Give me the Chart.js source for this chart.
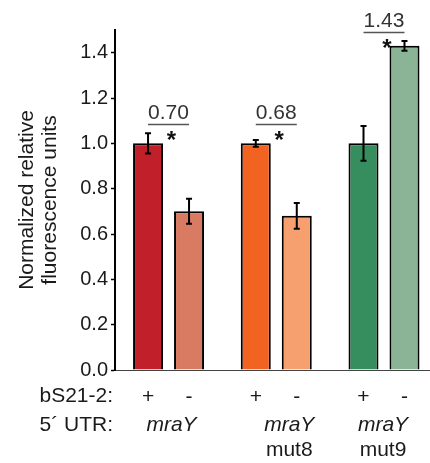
<!DOCTYPE html>
<html>
<head>
<meta charset="utf-8">
<script src="https://cdn.jsdelivr.net/npm/chart.js@4"></script>
<style>
  body { margin: 0; background: #fff; }
  #wrap { width: 430px; height: 463px; position: relative; }
</style>
</head>
<body>
<div id="wrap"><canvas id="chart"></canvas></div>
<script>
// --- data ---
const groupPos = [1, 2, 3];
const groupLine1 = ['mraY', 'mraY', 'mraY'];
const groupLine2 = ['', 'mut8', 'mut9'];
const plusValues = [1.00, 1.00, 1.00];
const plusErrors = [0.045, 0.015, 0.077];
const minusValues = [0.70, 0.68, 1.43];
const minusErrors = [0.055, 0.057, 0.022];
const ratioLabels = ['0.70', '0.68', '1.43'];
const bracketLevel = [1.085, 1.085, 1.49];
const yTicks = [0, 0.2, 0.4, 0.6, 0.8, 1.0, 1.2, 1.4];

const plusColors = ['#C1202A', '#F26322', '#368E5E'];
const minusColors = ['#D97B63', '#F7A06F', '#8BB497'];

const FONT = '"Liberation Sans", Arial, Helvetica, sans-serif';

// error bars drawn on top of each bar
const errorBars = {
    id: 'errorBars',
    afterDatasetsDraw(chart) {
        const { ctx } = chart;
        const y = chart.scales.y;
        ctx.save();
        ctx.strokeStyle = '#000';
        ctx.lineWidth = 2;
        chart.data.datasets.forEach((ds, i) => {
            chart.getDatasetMeta(i).data.forEach((bar, j) => {
                const v = ds.data[j].y, e = ds.errors[j];
                const top = y.getPixelForValue(v + e);
                const bot = y.getPixelForValue(v - e);
                ctx.beginPath();
                ctx.moveTo(bar.x, top); ctx.lineTo(bar.x, bot);
                ctx.moveTo(bar.x - 3, top); ctx.lineTo(bar.x + 3, top);
                ctx.moveTo(bar.x - 3, bot); ctx.lineTo(bar.x + 3, bot);
                ctx.stroke();
            });
        });
        ctx.restore();
    }
};

// ratio brackets with star
const ratios = {
    id: 'ratios',
    afterDatasetsDraw(chart) {
        const { ctx } = chart;
        const y = chart.scales.y;
        const a = chart.getDatasetMeta(0).data;
        const b = chart.getDatasetMeta(1).data;
        ctx.save();
        ratioLabels.forEach((txt, i) => {
            const x1 = a[i].x, x2 = b[i].x;
            const ly = Math.round(y.getPixelForValue(bracketLevel[i])) + 0.5;
            ctx.strokeStyle = '#555';
            ctx.lineWidth = 1.5;
            ctx.beginPath();
            ctx.moveTo(x1, ly); ctx.lineTo(x2, ly);
            ctx.stroke();
            ctx.fillStyle = '#333';
            ctx.font = '21px ' + FONT;
            ctx.textAlign = 'center';
            ctx.textBaseline = 'alphabetic';
            ctx.fillText(txt, (x1 + x2) / 2, ly - 6);
            ctx.fillStyle = '#111';
            ctx.font = 'bold 24px ' + FONT;
            ctx.fillText('*', (x1 + x2) / 2 + 3, ly + 23);
        });
        ctx.restore();
    }
};

// the two rows of labels under the axis
const rowLabels = {
    id: 'rowLabels',
    afterDraw(chart) {
        const { ctx, chartArea } = chart;
        const a = chart.getDatasetMeta(0).data;
        const b = chart.getDatasetMeta(1).data;
        const r1 = chartArea.bottom + 26, r2 = chartArea.bottom + 55, r3 = chartArea.bottom + 80;
        const shift = [3, 13, -1];
        ctx.save();
        ctx.fillStyle = '#1a1a1a';
        ctx.textBaseline = 'middle';
        ctx.font = '21px ' + FONT;
        ctx.textAlign = 'right';
        ctx.fillText('bS21-2:', chartArea.left - 2, r1);
        ctx.fillText('5\u00B4 UTR:', chartArea.left - 2, r2);
        ctx.textAlign = 'center';
        groupPos.forEach((g, i) => {
            ctx.font = '21px ' + FONT;
            ctx.fillText('+', a[i].x, r1 + 1);
            ctx.fillText('-', b[i].x, r1 + 1);
            const cx = (a[i].x + b[i].x) / 2 + shift[i];
            ctx.font = 'italic 21px ' + FONT;
            ctx.fillText(groupLine1[i], cx, r2);
            ctx.font = '21px ' + FONT;
            if (groupLine2[i]) ctx.fillText(groupLine2[i], cx, r3);
        });
        ctx.restore();
    }
};

new Chart(document.getElementById('chart'), {
    type: 'bar',
    data: {
        datasets: [
            {
                label: '+',
                data: groupPos.map((g, i) => ({ x: g, y: plusValues[i] })),
                errors: plusErrors,
                backgroundColor: plusColors,
                borderColor: '#000',
                borderWidth: 2
            },
            {
                label: '-',
                data: groupPos.map((g, i) => ({ x: g, y: minusValues[i] })),
                errors: minusErrors,
                backgroundColor: minusColors,
                borderColor: '#000',
                borderWidth: 2
            }
        ]
    },
    options: {
        responsive: true,
        maintainAspectRatio: false,
        animation: false,
        categoryPercentage: 0.761,
        barPercentage: 0.732,
        layout: { padding: { top: 30, right: 0, bottom: 93, left: 0 } },
        plugins: {
            legend: { display: false },
            tooltip: { enabled: false }
        },
        scales: {
            x: {
                type: 'linear',
                min: 0.503,
                max: 3.427,
                offset: false,
                afterBuildTicks: s => { s.ticks = groupPos.map(v => ({ value: v })); },
                ticks: { display: false },
                grid: { display: false, drawTicks: false, offset: false },
                border: { color: '#444', width: 1 }
            },
            y: {
                min: 0,
                max: 1.5,
                afterFit: s => { s.width = 115; },
                afterBuildTicks: s => { s.ticks = yTicks.map(v => ({ value: v })); },
                ticks: {
                    color: '#1a1a1a',
                    padding: 3,
                    font: { family: FONT, size: 20 },
                    callback: v => v.toFixed(1)
                },
                grid: { drawOnChartArea: false, tickLength: 4, color: '#000', tickWidth: 1.5 },
                border: { color: '#000', width: 2 },
                title: {
                    display: true,
                    text: ['Normalized relative', 'fluorescence units'],
                    color: '#1a1a1a',
                    font: { family: FONT, size: 21, lineHeight: 1.1 },
                    padding: { top: 16, bottom: 0 }
                }
            }
        }
    },
    plugins: [errorBars, ratios, rowLabels]
});
</script>
</body>
</html>
